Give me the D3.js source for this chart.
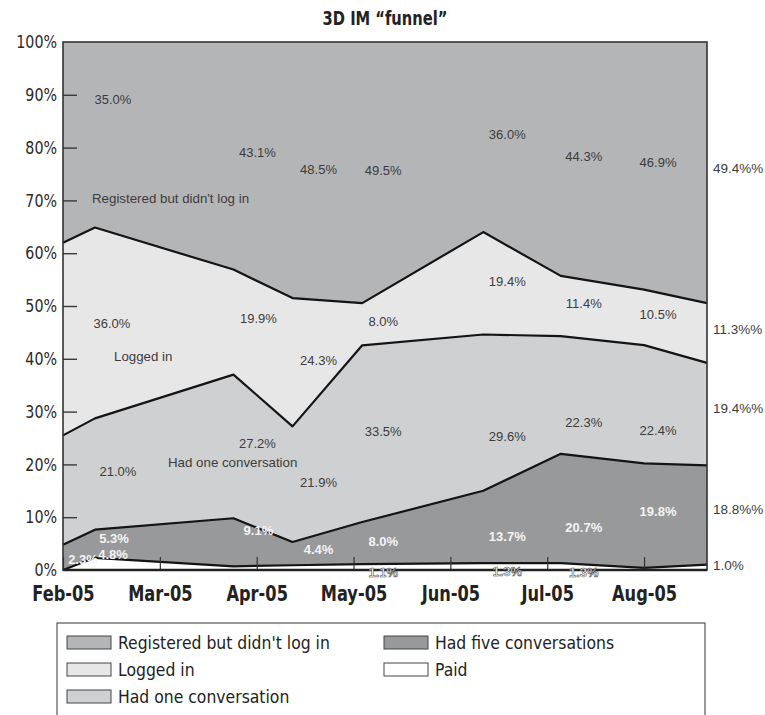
<!DOCTYPE html>
<html>
<head>
<meta charset="utf-8">
<script src="https://cdn.jsdelivr.net/npm/d3@7"></script>
<style>
  html, body { margin: 0; padding: 0; background: #fff; }
  svg { display: block; }
  .cond { font-family: "DejaVu Sans Condensed", "Liberation Sans Narrow", "Arial Narrow", sans-serif; }
  .plain { font-family: "Liberation Sans", Arial, sans-serif; }
</style>
</head>
<body>
<svg id="chart" width="765" height="715"></svg>
<script>
// Observation points, measured in months from 1 Feb 2005
const obsMonth = [0, 0.33, 1.76, 2.37, 3.09, 4.34, 5.14, 6.0, 6.65];

// Share of users at each stage of the funnel (%)
const registered = [38.0, 35.0, 43.1, 48.5, 49.5, 36.0, 44.3, 46.9, 49.4];
const loggedIn   = [36.5, 36.0, 19.9, 24.3, 8.0, 19.4, 11.4, 10.5, 11.3];
const oneConv    = [20.7, 21.0, 27.2, 21.9, 33.5, 29.6, 22.3, 22.4, 19.4];
const fiveConv   = [4.8, 5.3, 9.1, 4.4, 8.0, 13.7, 20.7, 19.8, 18.8];
const paid       = [0.0, 2.3, 0.7, 0.9, 1.1, 1.3, 1.3, 0.4, 1.0];

const monthLabels = ["Feb-05", "Mar-05", "Apr-05", "May-05", "Jun-05", "Jul-05", "Aug-05"];
const yTickValues = [0, 10, 20, 30, 40, 50, 60, 70, 80, 90, 100];

const seriesNames = ["Registered but didn't log in", "Logged in", "Had one conversation",
                     "Had five conversations", "Paid"];
const seriesKeys = ["registered", "loggedIn", "oneConv", "fiveConv", "paid"];

// ---- layout & style -------------------------------------------------------
const M = { left: 63, right: 707, top: 42, bottom: 570 };
const fills = {
  registered: "#b4b5b7",
  loggedIn:   "#e7e7e8",
  oneConv:    "#cfd0d2",
  fiveConv:   "#98999b",
  paid:       "#ffffff"
};

// squeeze a text horizontally so it reads like a condensed face
function condense(sel, sx) {
  sel.each(function () {
    const t = d3.select(this);
    const x0 = +t.attr("x") || 0;
    t.attr("x", 0).attr("transform", `translate(${x0},0) scale(${sx},1)`);
  });
}

const rows = obsMonth.map((m, i) => ({
  m,
  paid: paid[i], fiveConv: fiveConv[i], oneConv: oneConv[i],
  loggedIn: loggedIn[i], registered: registered[i]
}));

const svg = d3.select("#chart");

const x = d3.scaleLinear().domain([0, obsMonth[obsMonth.length - 1]]).range([M.left, M.right]);
const y = d3.scaleLinear().domain([0, 1]).range([M.bottom, M.top]);
const pctY = d3.scaleLinear().domain([0, 100]).range([M.bottom, M.top]);

// stacked bottom-up, normalised to 100%
const stack = d3.stack()
  .keys(["paid", "fiveConv", "oneConv", "loggedIn", "registered"])
  .offset(d3.stackOffsetExpand);
const layers = stack(rows);

const area = d3.area()
  .x(d => x(d.data.m))
  .y0(d => y(d[0]))
  .y1(d => y(d[1]));

const topLine = d3.line()
  .x(d => x(d.data.m))
  .y(d => y(d[1]));

svg.append("g").selectAll("path")
  .data(layers)
  .join("path")
  .attr("d", area)
  .attr("fill", d => fills[d.key]);

// y axis ticks pointing into the plot
const yAxis = d3.axisLeft(pctY)
  .tickValues(yTickValues)
  .tickFormat(d => d + "%")
  .tickSize(-14)
  .tickPadding(6);
const gy = svg.append("g").attr("transform", `translate(${M.left},0)`).call(yAxis);
gy.select(".domain").remove();
gy.selectAll(".tick line").attr("stroke", "#3a3a3a").attr("stroke-width", 1.4)
  .filter(d => d === 0 || d === 100).remove();
gy.selectAll(".tick text")
  .attr("class", "cond")
  .attr("font-size", 18)
  .attr("fill", "#2a2a2a")
  .call(condense, 0.88);

// boundaries between stages
svg.append("g").selectAll("path")
  .data(layers.slice(0, 4))
  .join("path")
  .attr("d", topLine)
  .attr("fill", "none")
  .attr("stroke", "#141414")
  .attr("stroke-width", 2.2)
  .attr("stroke-linejoin", "round");

// x axis with month ticks pointing up
const xAxis = d3.axisBottom(x)
  .tickValues(d3.range(monthLabels.length))
  .tickFormat(i => monthLabels[i])
  .tickSize(-13)
  .tickPadding(15);
const gx = svg.append("g").attr("transform", `translate(0,${M.bottom})`).call(xAxis);
gx.select(".domain").remove();
gx.selectAll(".tick line").attr("stroke", "#333").attr("stroke-width", 1.2);
gx.selectAll(".tick text")
  .attr("class", "cond")
  .attr("font-size", 22)
  .attr("font-weight", "bold")
  .attr("fill", "#222")
  .call(condense, 0.82);

// plot frame
svg.append("rect")
  .attr("x", M.left).attr("y", M.top)
  .attr("width", M.right - M.left).attr("height", M.bottom - M.top)
  .attr("fill", "none").attr("stroke", "#333").attr("stroke-width", 1.6);
svg.append("line")
  .attr("x1", M.left).attr("x2", M.right)
  .attr("y1", M.bottom).attr("y2", M.bottom)
  .attr("stroke", "#222").attr("stroke-width", 2.4);

// title
svg.append("text")
  .attr("class", "cond")
  .attr("x", (M.left + M.right) / 2).attr("y", 25)
  .attr("text-anchor", "middle")
  .attr("font-size", 19).attr("font-weight", "bold").attr("fill", "#222")
  .text("3D IM \u201cfunnel\u201d")
  .call(condense, 0.86);

// ---- value annotations ----------------------------------------------------
// each entry: series, point index, x shift (px) from the point, level (% of axis)
const fmt = d3.format(".1f");
const valueOf = { registered, loggedIn, oneConv, fiveConv, paid };
const notes = [
  ["registered", 1, 18, 89], ["registered", 2, 24, 79], ["registered", 3, 26, 75.8],
  ["registered", 4, 21, 75.6], ["registered", 5, 24, 82.4], ["registered", 6, 23, 78.2],
  ["registered", 7, 14, 77],
  ["loggedIn", 1, 17, 46.6], ["loggedIn", 2, 25, 47.5], ["loggedIn", 3, 26, 39.6],
  ["loggedIn", 4, 21, 47], ["loggedIn", 5, 24, 54.5], ["loggedIn", 6, 23, 50.4],
  ["loggedIn", 7, 14, 48.3],
  ["oneConv", 1, 23, 18.6], ["oneConv", 2, 24, 23.9], ["oneConv", 3, 26, 16.5],
  ["oneConv", 4, 21, 26.1], ["oneConv", 5, 24, 25.2], ["oneConv", 6, 23, 27.8],
  ["oneConv", 7, 14, 26.3],
  ["fiveConv", 1, 19, 5.9], ["fiveConv", 2, 25, 7.4], ["fiveConv", 3, 26, 3.8],
  ["fiveConv", 4, 21, 5.3], ["fiveConv", 5, 24, 6.2], ["fiveConv", 6, 23, 8.0],
  ["fiveConv", 7, 14, 11.0],
  ["fiveConv", 0, 50, 2.9], ["paid", 1, -12, 1.9],
  ["paid", 4, 21, -0.6], ["paid", 5, 24, -0.4], ["paid", 6, 23, -0.6]
];

svg.append("g").selectAll("text")
  .data(notes)
  .join("text")
  .attr("class", "plain")
  .attr("x", d => x(obsMonth[d[1]]) + d[2])
  .attr("y", d => pctY(d[3]) + 4)
  .attr("text-anchor", "middle")
  .attr("font-size", 13)
  .attr("font-weight", d => (d[0] === "fiveConv" || d[0] === "paid") ? "bold" : "normal")
  .attr("fill", d => (d[0] === "fiveConv" || d[0] === "paid") ? "#f4f4f4" : "#3c3c3c")
  .attr("stroke", d => d[0] === "paid" && d[3] < 0 ? "#444" : "none")
  .attr("stroke-width", 0.5)
  .text(d => fmt(valueOf[d[0]][d[1]]) + "%");

// final values, listed to the right of the plot
const last = obsMonth.length - 1;
const sideNotes = [
  ["registered", 75.9, "%%"], ["loggedIn", 45.5, "%%"], ["oneConv", 30.5, "%%"],
  ["fiveConv", 11.4, "%%"], ["paid", 0.8, "%"]
];
svg.append("g").selectAll("text")
  .data(sideNotes)
  .join("text")
  .attr("class", "plain")
  .attr("x", M.right + 6)
  .attr("y", d => pctY(d[1]) + 4)
  .attr("font-size", 13.5)
  .attr("fill", "#3c3c3c")
  .text(d => fmt(valueOf[d[0]][last]) + d[2]);

// stage names written inside the areas
const stageNotes = [
  [0, 92, 70.2], [1, 114, 40.3], [2, 168, 20.2]
];
svg.append("g").selectAll("text")
  .data(stageNotes)
  .join("text")
  .attr("class", "plain")
  .attr("x", d => d[1])
  .attr("y", d => pctY(d[2]) + 4)
  .attr("font-size", 13.3)
  .attr("fill", "#3c3c3c")
  .text(d => seriesNames[d[0]]);

// ---- legend ---------------------------------------------------------------
const legend = svg.append("g");
legend.append("rect")
  .attr("x", 57).attr("y", 623).attr("width", 648).attr("height", 110)
  .attr("fill", "none").attr("stroke", "#555").attr("stroke-width", 1.2);

const legendPos = [[67, 643], [67, 670], [67, 697], [384, 643], [384, 670]];
const li = legend.selectAll("g.item")
  .data(seriesKeys)
  .join("g")
  .attr("class", "item")
  .attr("transform", (d, i) => `translate(${legendPos[i][0]},${legendPos[i][1]})`);
li.append("rect")
  .attr("x", 0).attr("y", -7).attr("width", 44).attr("height", 13)
  .attr("fill", d => fills[d]).attr("stroke", "#444").attr("stroke-width", 1);
li.append("text")
  .attr("class", "cond")
  .attr("x", 51).attr("y", 6)
  .attr("font-size", 18.5).attr("fill", "#222")
  .text((d, i) => seriesNames[i])
  .call(condense, 0.94);
</script>
</body>
</html>
